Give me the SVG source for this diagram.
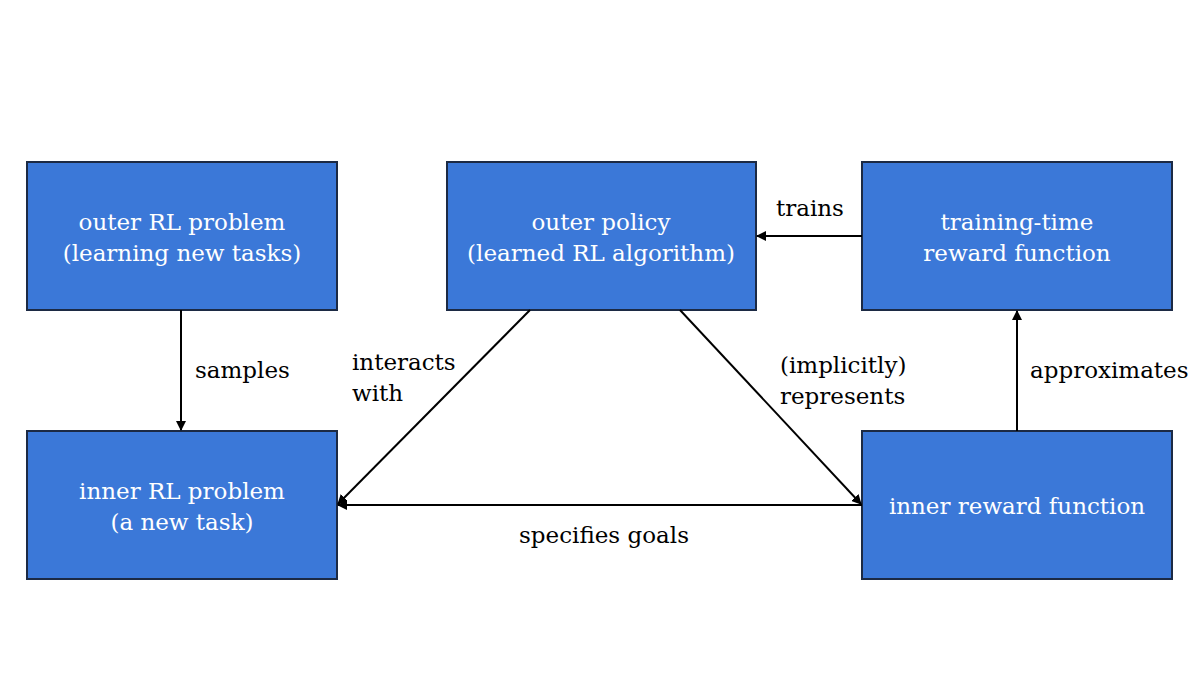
<svg xmlns="http://www.w3.org/2000/svg" width="1200" height="675" viewBox="0 0 1200 675">
<style>
.box{fill:#3b78d8;stroke:#1c2a44;stroke-width:2}
.bt{font-family:"DejaVu Serif",serif;font-size:23px;fill:#fff;text-anchor:middle}
.lt{font-family:"DejaVu Serif",serif;font-size:23px;fill:#000}
.c{stroke:#000;stroke-width:2;fill:none;marker-end:url(#a)}
</style>
<defs><marker id="a" markerWidth="10" markerHeight="10" refX="9" refY="5" orient="auto" markerUnits="userSpaceOnUse"><path d="M0,0 L10,5 L0,10 z" fill="#000"/></marker></defs>
<rect width="1200" height="675" fill="#fff"/>
<g id="n1"><rect class="box" x="27" y="162" width="310" height="148"/><text class="bt" x="182" y="230">outer RL problem</text><text class="bt" x="182" y="261">(learning new tasks)</text></g>
<g id="n2"><rect class="box" x="447" y="162" width="309" height="148"/><text class="bt" x="601" y="230">outer policy</text><text class="bt" x="601" y="261">(learned RL algorithm)</text></g>
<g id="n3"><rect class="box" x="862" y="162" width="310" height="148"/><text class="bt" x="1017" y="230">training-time</text><text class="bt" x="1017" y="261">reward function</text></g>
<g id="n4"><rect class="box" x="27" y="431" width="310" height="148"/><text class="bt" x="182" y="499">inner RL problem</text><text class="bt" x="182" y="530">(a new task)</text></g>
<g id="n5"><rect class="box" x="862" y="431" width="310" height="148"/><text class="bt" x="1017" y="514">inner reward function</text></g>
<g id="connectors">
<path class="c" d="M181,310 L181,430"/>
<path class="c" d="M862,236 L757,236"/>
<path class="c" d="M1017,431 L1017,311"/>
<path class="c" d="M530,310 L338,504"/>
<path class="c" d="M680,310 L861,504"/>
<path class="c" d="M862,505 L338,505"/>
<text class="lt" x="195" y="378">samples</text>
<text class="lt" x="776" y="216">trains</text>
<text class="lt" x="1030" y="378">approximates</text>
<text class="lt" x="352" y="370">interacts</text>
<text class="lt" x="352" y="401">with</text>
<text class="lt" x="780" y="373">(implicitly)</text>
<text class="lt" x="780" y="404">represents</text>
<text class="lt" x="604" y="543" text-anchor="middle">specifies goals</text>
</g>
</svg>
